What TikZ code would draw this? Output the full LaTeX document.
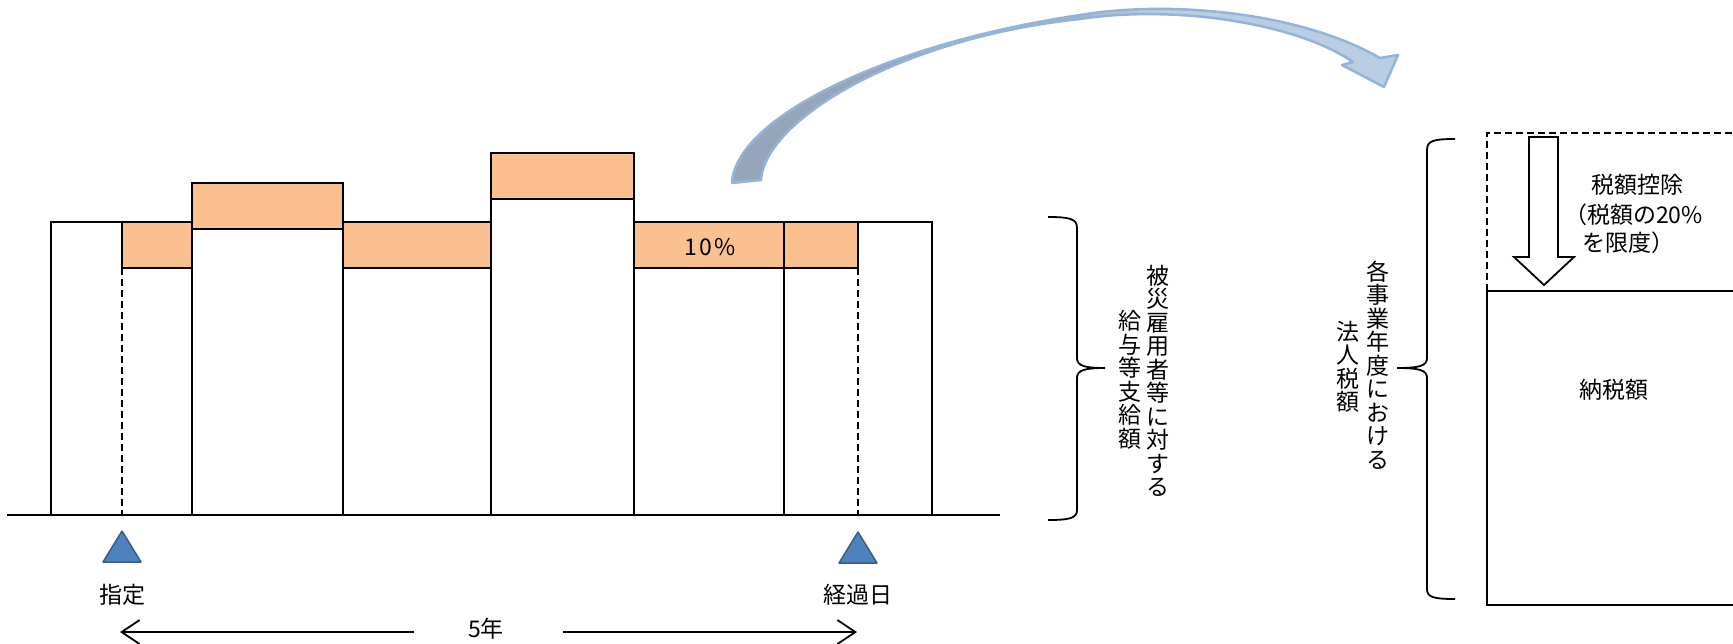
\documentclass[tikz,border=0pt]{standalone}
\usepackage{fontspec}
\setmainfont{Noto Sans CJK JP}
\usetikzlibrary{arrows.meta}
\definecolor{orng}{RGB}{250,192,143}
\definecolor{tri}{RGB}{79,129,189}
\definecolor{trid}{RGB}{56,93,138}
\definecolor{rdark}{RGB}{149,165,186}
\definecolor{rlight}{RGB}{185,205,229}
\definecolor{rline}{RGB}{149,179,215}
\pgfdeclarehorizontalshading{ribbon}{100bp}{color(0bp)=(rdark); color(47bp)=(rdark); color(57bp)=(rlight); color(100bp)=(rlight)}
\tikzset{
  bar/.style={draw=black, fill=white, line width=1.8pt},
  orcap/.style={draw=black, fill=orng, line width=1.8pt},
  dsh/.style={dash pattern=on 7pt off 4pt, line width=1.8pt},
  lbl/.style={font=\fontsize{23}{23.5}\selectfont, inner sep=0pt},
  vtxt/.style={lbl, align=center},
  marker/.style={fill=tri, draw=trid, line width=1.5pt, line join=round},
  bracel/.style={line width=1.8pt},
  timearrow/.style={line width=1.8pt, -{Straight Barb[length=18pt,width=24pt]}},
}
\begin{document}
\begin{tikzpicture}[x=1pt,y=-1pt]
\useasboundingbox (0,0) rectangle (1733,643);
% columns
\draw[bar] (51,222) rectangle (192,515);
\draw[bar] (192,183) rectangle (343,515);
\draw[bar] (343,222) rectangle (491,515);
\draw[bar] (491,153) rectangle (634,515);
\draw[bar] (634,222) rectangle (784,515);
\draw[bar] (784,222) rectangle (932,515);
% orange caps
\draw[orcap] (122,222) rectangle (192,268);
\draw[orcap] (192,183) rectangle (343,229);
\draw[orcap] (343,222) rectangle (491,268);
\draw[orcap] (491,153) rectangle (634,199);
\draw[orcap] (634,222) rectangle (784,268);
\draw[orcap] (784,222) rectangle (858,268);
\node[lbl] (pct) at (710,247) {1\hspace{2pt}0\hspace{2pt}\%};
% dashed markers
\draw[dsh] (122,268) -- (122,515);
\draw[dsh] (858,268) -- (858,515);
% baseline
\coordinate (bl0) at (7,515);
\coordinate (bl1) at (1000,515);
\draw[line width=1.8pt] (bl0) -- (bl1);
% triangles
\draw[marker] (122,531) -- (141,562) -- (103,562) -- cycle;
\draw[marker] (858,532) -- (877,563) -- (839,563) -- cycle;
\node[lbl] (d1) at (122,595) {指定};
\node[lbl] (d2) at (858,595) {経過日};
% 5 years
\node[lbl] (yr) at (486,629) {5年};
\coordinate (a0) at (414,632);
\coordinate (a1) at (120,632);
\coordinate (b0) at (563,632);
\coordinate (b1) at (857,632);
\draw[timearrow] (a0) -- (a1);
\draw[timearrow] (b0) -- (b1);
% left brace
\draw[bracel] (1048,217) .. controls (1070,217) and (1077,219) .. (1077,228) -- (1077,358)
  .. controls (1077,366) and (1085,368) .. (1105,368)
  .. controls (1085,368) and (1077,370) .. (1077,378) -- (1077,510)
  .. controls (1077,518) and (1070,520) .. (1048,520);
\node[vtxt] (v1) at (1158,381) {被\\災\\雇\\用\\者\\等\\に\\対\\す\\る};
\node[vtxt] (v2) at (1130,380) {給\\与\\等\\支\\給\\額};
% right brace
\draw[bracel] (1455,139) .. controls (1433,139) and (1427,141) .. (1427,150) -- (1427,358)
  .. controls (1427,366) and (1419,368) .. (1397,368)
  .. controls (1419,368) and (1427,370) .. (1427,378) -- (1427,589)
  .. controls (1427,597) and (1433,599) .. (1455,599);
\node[vtxt] (v3) at (1378,365) {各\\事\\業\\年\\度\\に\\お\\け\\る};
\node[vtxt] (v4) at (1348,367) {法\\人\\税\\額};
% right box
\draw[dsh] (1487,291) -- (1487,133) -- (1745,133);
\draw[line width=1.8pt] (1745,291) -- (1487,291) -- (1487,605) -- (1745,605);
\draw[line width=1.8pt, fill=white] (1529,137) -- (1558,137) -- (1558,257) -- (1574,257) -- (1544,285) -- (1514,257) -- (1529,257) -- cycle;
\node[lbl, anchor=west] (t1) at (1591,185) {税額控除};
\node[lbl, anchor=west] (t2) at (1564,215) {（税額の20\%};
\node[lbl, anchor=west] (t3) at (1582,243) {を限度）};
\node[lbl] (nz) at (1614,390) {納税額};
% curved ribbon arrow
\shadedraw[shading=ribbon, draw=rline, line width=2.5pt, line join=round]
  (732,183) .. controls (735,120) and (880,45) .. (1080,15)
  .. controls (1170,0) and (1300,12) .. (1380,58)
  -- (1398,55) -- (1384,87) -- (1342,65) -- (1353,62)
  .. controls (1300,25) and (1180,4) .. (1080,19)
  .. controls (900,38) and (765,120) .. (761,180) -- cycle;
\end{tikzpicture}
\end{document}
